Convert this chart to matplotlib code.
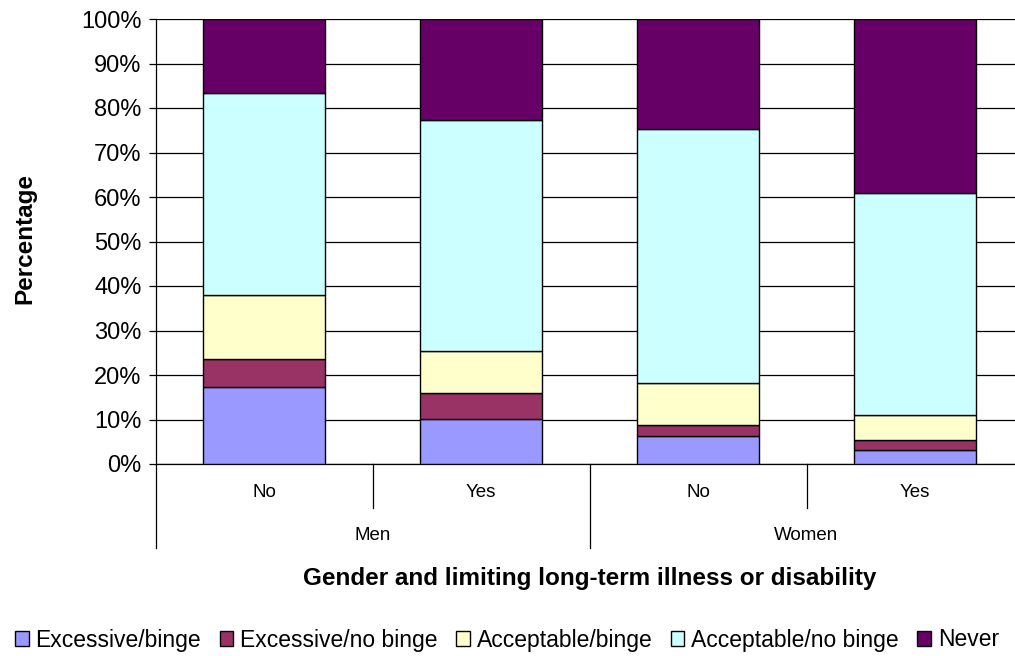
import matplotlib.pyplot as plt
import numpy as np

plt.rcParams['font.family'] = ['Liberation Sans', 'DejaVu Sans']

groups = ['Men', 'Women']
illness = ['No', 'Yes', 'No', 'Yes']
series = ['Excessive/binge', 'Excessive/no binge', 'Acceptable/binge',
          'Acceptable/no binge', 'Never']
excessive_binge = [17.4, 10.2, 6.2, 3.1]
excessive_no_binge = [6.1, 5.8, 2.6, 2.2]
acceptable_binge = [14.5, 9.4, 9.5, 5.7]
acceptable_no_binge = [45.4, 51.9, 56.9, 49.8]
never = [16.6, 22.7, 24.8, 39.2]
colors = ['#9999FF', '#993366', '#FFFFCC', '#CCFFFF', '#660066']

W, H = 1015, 656
fig = plt.figure(figsize=(W / 100, H / 100), dpi=100)
ax = fig.add_axes([155.5 / W, 1 - 464 / H, 868 / W, 445 / H])

x = np.arange(len(illness))
bottom = np.zeros(len(illness))
handles = []
for name, vals, c in zip(series, [excessive_binge, excessive_no_binge, acceptable_binge,
                                  acceptable_no_binge, never], colors):
    b = ax.bar(x, vals, 0.562, bottom=bottom, color=c, edgecolor='black',
               linewidth=1.0, zorder=3, label=name)
    bottom += np.array(vals)
    handles.append(b)

ax.set_xlim(-0.5, 3.5)
ax.set_ylim(0, 100)
ax.set_yticks(np.arange(0, 101, 10))
ax.set_yticklabels([f'{v}%' for v in range(0, 101, 10)], fontsize=17)
ax.yaxis.grid(True, color='black', linewidth=0.9, zorder=0)
ax.tick_params(axis='y', length=5, width=0.9, pad=5)
ax.set_xticks([])
for s in ['top', 'right']:
    ax.spines[s].set_visible(False)
ax.spines['left'].set_linewidth(0.9)
ax.spines['bottom'].set_linewidth(0.9)

# two-level category axis
tr = ax.get_xaxis_transform()
for i, lab in enumerate(illness):
    ax.text(i, -0.063, lab, transform=tr, ha='center', va='center', fontsize=13.5)
for xd in [0.5, 2.5]:
    ax.plot([xd, xd], [0, -0.099], transform=tr, color='black', lw=0.9, clip_on=False)
for xd in [-0.5, 1.5, 3.5]:
    ax.plot([xd, xd], [0, -0.189], transform=tr, color='black', lw=0.9, clip_on=False)
for j, g in enumerate(groups):
    ax.text(2 * j + 0.5, -0.16, g, transform=tr, ha='center', va='center', fontsize=13.5)

fig.text(590 / W, 1 - 578 / H, 'Gender and limiting long-term illness or disability',
         ha='center', va='center', fontsize=17.5, fontweight='bold')
fig.text(25 / W, 1 - 238 / H, 'Percentage', rotation=90, ha='center', va='center',
         fontsize=17.5, fontweight='bold')

fig.legend(handles=handles, loc='center', bbox_to_anchor=(507 / W, 1 - 640 / H),
           ncol=5, frameon=False, fontsize=16.5, handlelength=0.6, handleheight=0.6,
           handletextpad=0.3, columnspacing=0.8, borderpad=0)

fig.savefig('out.png', dpi=100)
